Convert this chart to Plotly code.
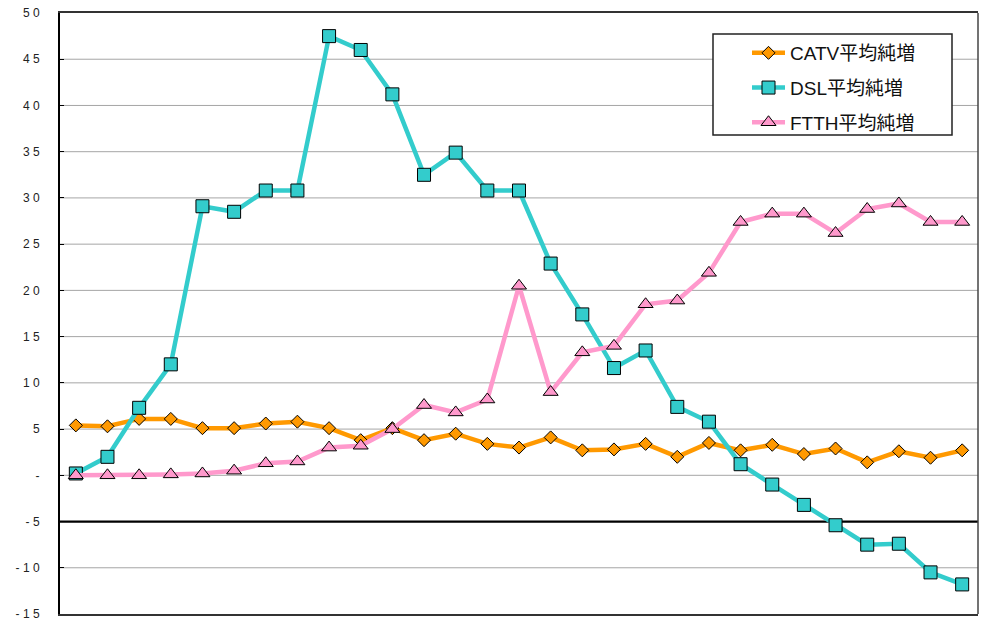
import plotly.graph_objects as go

# 29 consecutive periods (no category labels on the horizontal axis)
periods = list(range(1, 30))

catv = [5.4, 5.3, 6.1, 6.1, 5.1, 5.1, 5.6, 5.8, 5.1, 3.8,
        5.1, 3.8, 4.5, 3.4, 3.0, 4.1, 2.7, 2.8, 3.4, 2.0,
        3.5, 2.7, 3.3, 2.3, 2.9, 1.4, 2.6, 1.9, 2.7]
dsl = [0.2, 2.0, 7.3, 12.0, 29.1, 28.5, 30.8, 30.8, 47.5, 46.0,
       41.2, 32.5, 34.9, 30.8, 30.8, 22.9, 17.4, 11.6, 13.5, 7.4,
       5.8, 1.2, -1.0, -3.2, -5.4, -7.5, -7.4, -10.5, -11.8]
ftth = [0.0, 0.0, 0.0, 0.1, 0.2, 0.5, 1.3, 1.5, 3.0, 3.2,
        5.0, 7.6, 6.8, 8.2, 20.5, 9.0, 13.3, 14.0, 18.5, 18.9,
        21.9, 27.4, 28.3, 28.3, 26.2, 28.8, 29.4, 27.4, 27.4]

series_names = ["CATV平均純増", "DSL平均純増", "FTTH平均純増"]

y_tickvals = [50, 45, 40, 35, 30, 25, 20, 15, 10, 5, 0, -5, -10, -15]
y_ticktext = ["5\u00a00", "4\u00a05", "4\u00a00", "3\u00a05", "3\u00a00", "2\u00a05",
              "2\u00a00", "1\u00a05", "1\u00a00", "5", "-", "-\u00a05",
              "-\u00a01\u00a00", "-\u00a01\u00a05"]
# grid values (the -5 level carries the category axis line instead)
grid_vals = [45, 40, 35, 30, 25, 20, 15, 10, 5, 0, -10]
axis_cross = -5

FONT = "Liberation Sans, Arial, Noto Sans CJK JP, sans-serif"

fig = go.Figure()

styles = [
    dict(color="#FF9900", symbol="diamond", size=10),
    dict(color="#33CCCC", symbol="square", size=13),
    dict(color="#FF99CC", symbol="triangle-up", size=13),
]

for i, (name, values, st) in enumerate(zip(series_names, [catv, dsl, ftth], styles)):
    fig.add_trace(go.Scatter(
        x=periods, y=values, name=name, mode="lines+markers",
        legendgroup=f"g{i}",
        line=dict(color=st["color"], width=4.5),
        marker=dict(symbol=st["symbol"], size=st["size"], color=st["color"],
                    line=dict(color="#000000", width=1)),
    ))

W, H = 984, 628
ML, MR, MT, MB = 60, 6, 13, 14
PW, PH = W - ML - MR, H - MT - MB


def px_x(p):
    return (p - ML) / PW


def px_y(p):
    return (H - MB - p) / PH


shapes = []
for g in grid_vals:
    shapes.append(dict(type="line", xref="x", yref="y", x0=0.5, x1=29.5, y0=g, y1=g,
                       line=dict(color="#A6A6A6", width=1), layer="between"))
shapes.append(dict(type="line", xref="x", yref="y", x0=0.5, x1=29.5,
                   y0=axis_cross, y1=axis_cross,
                   line=dict(color="#000000", width=2.2), layer="between"))
# right border of the plot area
shapes.append(dict(type="line", xref="paper", yref="paper", x0=1, x1=1, y0=0, y1=1,
                   line=dict(color="#444444", width=1.5)))
# legend frame
shapes.append(dict(type="rect", xref="paper", yref="paper",
                   x0=px_x(713), x1=px_x(952), y0=px_y(135), y1=px_y(34),
                   fillcolor="white", line=dict(color="#222222", width=1.5),
                   layer="above"))

fig.update_layout(
    width=W, height=H,
    margin=dict(l=ML, r=MR, t=MT, b=MB, pad=0),
    paper_bgcolor="white", plot_bgcolor="white",
    font=dict(family=FONT, color="#222222"),
    showlegend=True,
    legend=dict(
        x=px_x(747), y=px_y(34), xanchor="left", yanchor="top",
        bgcolor="rgba(0,0,0,0)", borderwidth=0,
        font=dict(size=19, family=FONT, color="#111111"),
        traceorder="grouped", tracegroupgap=7, itemwidth=33,
    ),
    xaxis=dict(
        range=[0.5, 29.5], showticklabels=False, ticks="", showgrid=False,
        zeroline=False, showline=True, linecolor="#333333", linewidth=2,
        mirror=True,
    ),
    yaxis=dict(
        range=[-15, 50], tickvals=y_tickvals, ticktext=y_ticktext,
        showgrid=False, zeroline=False,
        showline=True, linecolor="#000000", linewidth=2,
        ticks="inside", ticklen=4, tickcolor="#000000", tickwidth=1,
        ticklabelstandoff=16,
        tickfont=dict(size=12, family=FONT, color="#222222"),
    ),
    shapes=shapes,
)

fig.write_html("out.html")
